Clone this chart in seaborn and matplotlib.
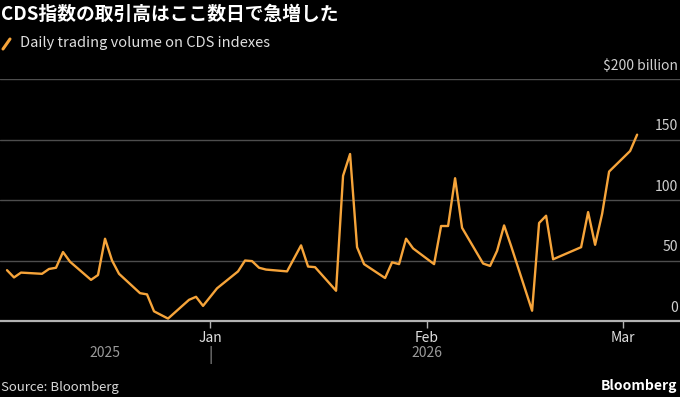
import matplotlib
matplotlib.use("Agg")
import matplotlib.pyplot as plt
import matplotlib.transforms as mtransforms
from matplotlib.lines import Line2D
import pandas as pd
import seaborn as sns

# ---------------------------------------------------------------------------
TITLE = "CDS指数の取引高はここ数日で急増した"
SERIES_NAME = "Daily trading volume on CDS indexes"

dates = [
    "2025-12-03", "2025-12-04", "2025-12-05", "2025-12-08", "2025-12-09",
    "2025-12-10", "2025-12-11", "2025-12-12", "2025-12-15", "2025-12-16",
    "2025-12-17", "2025-12-18", "2025-12-19", "2025-12-22", "2025-12-23",
    "2025-12-24", "2025-12-26", "2025-12-29", "2025-12-30", "2025-12-31",
    "2026-01-02", "2026-01-05", "2026-01-06", "2026-01-07", "2026-01-08",
    "2026-01-09", "2026-01-12", "2026-01-14", "2026-01-15", "2026-01-16",
    "2026-01-19", "2026-01-20", "2026-01-21", "2026-01-22", "2026-01-23",
    "2026-01-26", "2026-01-27", "2026-01-28", "2026-01-29", "2026-01-30",
    "2026-02-02", "2026-02-03", "2026-02-04", "2026-02-05", "2026-02-06",
    "2026-02-09", "2026-02-10", "2026-02-11", "2026-02-12", "2026-02-13",
    "2026-02-16", "2026-02-17", "2026-02-18", "2026-02-19", "2026-02-23",
    "2026-02-24", "2026-02-25", "2026-02-26", "2026-02-27", "2026-03-02",
    "2026-03-03",
]
volume_bn = [
    42, 36, 40, 39, 43,
    44, 57, 49, 34, 38,
    68, 50, 39, 23, 22,
    8, 2, 17.5, 20, 12.5,
    27, 41, 50, 49.5, 44,
    42.5, 41, 62.5, 45, 44.5,
    25, 120, 138, 61, 47,
    35.5, 48.5, 47, 68, 60,
    47, 78.5, 78.5, 118, 77,
    47.5, 45.5, 58, 79, 62,
    8.5, 81, 87, 51, 61,
    90, 63, 88.5, 123.5, 140.5,
    154,
]

y_ticks = [0, 50, 100, 150, 200]
y_labels = ["0", "50", "100", "150", "$200 billion"]
month_ticks = ["2026-01-01", "2026-02-01", "2026-03-01"]
month_labels = ["Jan", "Feb", "Mar"]
years = [("2025", "2025-12-17"), ("2026", "2026-02-01")]

ORANGE = "#f6a43a"
BG = "black"

df = pd.DataFrame({"date": pd.to_datetime(dates), "volume": volume_bn})

sns.set_theme(style="dark")
plt.rcParams["font.family"] = ["Noto Sans CJK JP", "DejaVu Sans"]

W, H = 680, 397
fig = plt.figure(figsize=(W / 100, H / 100), dpi=100, facecolor=BG)
# axes: full width, value 0 at y=321px, 200 at y=79px
ax = fig.add_axes([0, (H - 321) / H, 1, (321 - 79) / H])
ax.set_facecolor(BG)

sns.lineplot(data=df, x="date", y="volume", ax=ax, color=ORANGE,
             linewidth=1.7, clip_on=False)

# x range: one day before first point to ~9 Mar
ax.set_xlim(pd.Timestamp("2025-12-02"), pd.Timestamp("2026-03-09 03:00"))
ax.set_ylim(0, 200)

for s in ax.spines.values():
    s.set_visible(False)

# grid lines
for v in y_ticks[1:]:
    ax.axhline(v, color="#4d4d4d", linewidth=1.0, zorder=0)
ax.axhline(0, color="#b3b3b3", linewidth=1.6, zorder=3, clip_on=False)

# y labels, right aligned above the lines
trans_y = mtransforms.blended_transform_factory(ax.transAxes, ax.transData)
off = mtransforms.offset_copy(trans_y, fig=fig, x=-1.5, y=4.5, units="points")
for v, lab in zip(y_ticks, y_labels):
    ax.text(1.0, v, lab, transform=off, ha="right", va="bottom",
            color="#d0d0d0", fontsize=10)

# month ticks
ax.set_yticks([])
ax.set_xticks(pd.to_datetime(month_ticks))
ax.set_xticklabels(month_labels)
ax.tick_params(axis="x", length=5, width=1, color="#b3b3b3", pad=2,
               labelsize=10, labelcolor="#e0e0e0", bottom=True)
ax.set_xlabel("")
ax.set_ylabel("")

# year labels
trans_x = mtransforms.blended_transform_factory(ax.transData, ax.transAxes)
for lab, d in years:
    ax.text(pd.Timestamp(d), -32 / 242, lab, transform=trans_x, ha="center",
            va="center", color="#9a9a9a", fontsize=10)
ax.text(pd.Timestamp("2026-01-01"), -34 / 242, "|", transform=trans_x,
        ha="center", va="center", color="#9a9a9a", fontsize=11)

# title and legend
fig.text(1 / W, 1 - 14 / H, TITLE, ha="left", va="center", color="white",
         fontsize=13.5, fontweight="bold")
fig.add_artist(Line2D([3 / W, 10 / W], [1 - 49 / H, 1 - 39 / H],
                      color=ORANGE, linewidth=2.2, transform=fig.transFigure))
fig.text(20 / W, 1 - 43 / H, SERIES_NAME, ha="left", va="center",
         color="#e0e0e0", fontsize=10.5)

# footer
fig.text(1 / W, 1 - 387 / H, "Source: Bloomberg", ha="left", va="center",
         color="#d8d8d8", fontsize=9.5)
fig.text(1 - 3 / W, 1 - 386 / H, "Bloomberg", ha="right", va="center",
         color="white", fontsize=10, fontweight="bold")

fig.savefig("out.png", dpi=100, facecolor=BG)
